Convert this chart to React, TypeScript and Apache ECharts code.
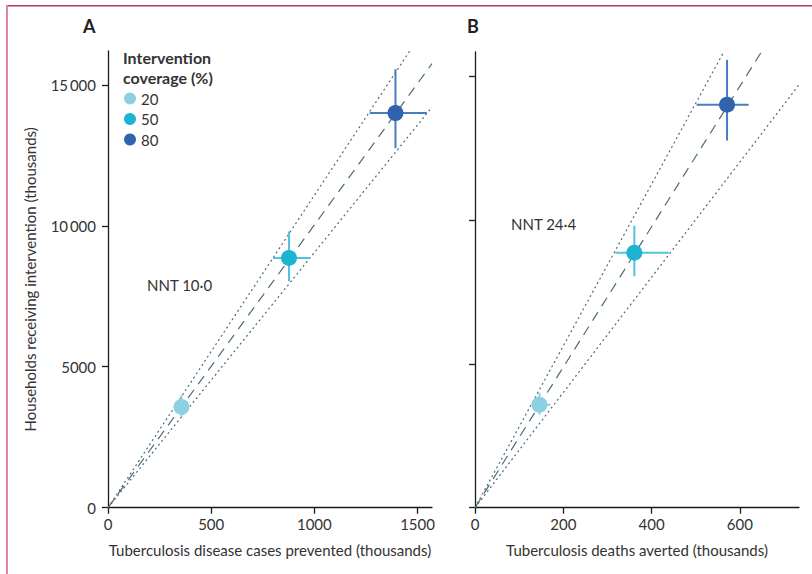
import React, { useEffect, useRef } from "react";
import * as echarts from "echarts";

// ---- data ----
const coverage = ["20", "50", "80"];
const coverageColors = ["#8dd0e4", "#1db4d1", "#2f63ad"];
const errorColors = ["#8dd0e4", "#52c3de", "#4a7cc0"];

// households receiving intervention (thousands), shared by both panels
const households = [3575, 8860, 14000];
const householdsLow = [3230, 8040, 12755];
const householdsHigh = [3990, 9797, 15557];

// Panel A: tuberculosis disease cases prevented (thousands)
const casesPrevented = [356, 877, 1393];
const casesLow = [335, 800, 1268];
const casesHigh = [378, 977, 1545];

// Panel B: tuberculosis deaths averted (thousands)
const deathsAverted = [146, 361, 571];
const deathsLow = [128, 318, 502];
const deathsHigh = [171, 439, 620];

// reference lines (start / end points)
const nntLineA = [[0, 0], [1570, 15750]];
const upperLineA = [[0, 0], [1462, 16200]];
const lowerLineA = [[0, 0], [1570, 14210]];
const nntLineB = [[0, 0], [650, 15860]];
const upperLineB = [[0, 0], [562, 15790]];
const lowerLineB = [[0, 0], [734, 14690]];

const xTicksA = [0, 500, 1000, 1500];
const xTicksB = [0, 200, 400, 600];
const yTicks = [0, 5000, 10000, 15000];

const nntLabelA = "NNT 10·0";
const nntLabelB = "NNT 24·4";

const FONT = "Lato, 'Noto Sans', sans-serif";
const LINE = "#4d6b7b";

function fmtY(v: number) {
  if (v >= 10000) {
    const s = String(v);
    return s.slice(0, s.length - 3) + "\u2009" + s.slice(s.length - 3);
  }
  return String(v);
}

export default function App() {
  const ref = useRef<HTMLDivElement>(null);
  useEffect(() => {
    if (!ref.current) return;
    const chart = echarts.init(ref.current, null, { renderer: "svg" });

    const axisCommon = {
      type: "value",
      axisLine: { show: true, lineStyle: { color: "#1a1a1a", width: 1.3 } },
      axisTick: { show: true, length: 6, lineStyle: { color: "#1a1a1a", width: 1.3 } },
      splitLine: { show: false },
      axisLabel: { color: "#333", fontSize: 15, fontFamily: FONT },
      nameTextStyle: { color: "#333", fontSize: 15, fontFamily: FONT },
    };

    const errorSeries = (xi: number, xv: number[], xl: number[], xh: number[]) => ({
      type: "custom",
      xAxisIndex: xi,
      yAxisIndex: xi,
      z: 3,
      silent: true,
      data: xv.map((x, i) => [x, households[i], xl[i], xh[i], householdsLow[i], householdsHigh[i]]),
      renderItem: (params: any, api: any) => {
        const x = api.value(0), y = api.value(1);
        const pL = api.coord([api.value(2), y]);
        const pH = api.coord([api.value(3), y]);
        const pB = api.coord([x, api.value(4)]);
        const pT = api.coord([x, api.value(5)]);
        const c = errorColors[params.dataIndex];
        return {
          type: "group",
          children: [
            { type: "line", shape: { x1: pL[0], y1: pL[1], x2: pH[0], y2: pH[1] }, style: { stroke: c, lineWidth: 2 } },
            { type: "line", shape: { x1: pB[0], y1: pB[1], x2: pT[0], y2: pT[1] }, style: { stroke: c, lineWidth: 2 } },
          ],
        };
      },
    });

    const refLine = (xi: number, data: number[][], dash: number[], w: number) => ({
      type: "line",
      xAxisIndex: xi,
      yAxisIndex: xi,
      data,
      symbol: "none",
      silent: true,
      z: 2,
      clip: false,
      lineStyle: { color: LINE, width: w, type: dash },
    });

    const scatterSeries: any[] = [];
    [0, 1].forEach((gi) => {
      const xv = gi === 0 ? casesPrevented : deathsAverted;
      coverage.forEach((name, i) => {
        scatterSeries.push({
          type: "scatter",
          name,
          xAxisIndex: gi,
          yAxisIndex: gi,
          symbolSize: 16,
          z: 5,
          itemStyle: { color: coverageColors[i], opacity: 1 },
          data: [[xv[i], households[i]]],
        });
      });
    });

    chart.setOption({
      animation: false,
      backgroundColor: "#fff",
      textStyle: { fontFamily: FONT },
      grid: [
        { left: 108, top: 51, width: 324, height: 456.7 },
        { left: 475, top: 52, width: 324, height: 455.7 },
      ],
      xAxis: [
        {
          ...axisCommon,
          gridIndex: 0,
          min: 0,
          max: 1570,
          axisTick: { ...axisCommon.axisTick, customValues: xTicksA },
          axisLabel: { ...axisCommon.axisLabel, customValues: xTicksA, margin: 9, formatter: (v: number) => String(v) },
          name: "Tuberculosis disease cases prevented (thousands)",
          nameLocation: "middle",
          nameGap: 35,
        },
        {
          ...axisCommon,
          gridIndex: 1,
          min: 0,
          max: 734,
          axisTick: { ...axisCommon.axisTick, customValues: xTicksB },
          axisLabel: { ...axisCommon.axisLabel, customValues: xTicksB, margin: 9, formatter: (v: number) => String(v) },
          name: "Tuberculosis deaths averted (thousands)",
          nameLocation: "middle",
          nameGap: 35,
        },
      ],
      yAxis: [
        {
          ...axisCommon,
          gridIndex: 0,
          min: 0,
          max: 16200,
          axisTick: { ...axisCommon.axisTick, customValues: yTicks },
          axisLabel: { ...axisCommon.axisLabel, customValues: yTicks, margin: 12, formatter: (v: number) => fmtY(v) },
          name: "Households receiving intervention (thousands)",
          nameLocation: "middle",
          nameGap: 71,
        },
        {
          ...axisCommon,
          gridIndex: 1,
          min: 0,
          max: 15830,
          axisTick: { ...axisCommon.axisTick, customValues: yTicks },
          axisLabel: { show: false },
        },
      ],
      legend: {
        data: coverage,
        left: 124,
        top: 91,
        orient: "vertical",
        icon: "circle",
        itemWidth: 12,
        itemHeight: 12,
        itemGap: 5.5,
        selectedMode: false,
        textStyle: { color: "#333", fontSize: 15, fontFamily: FONT, padding: [0, 0, 0, 0] },
        padding: 0,
      },
      graphic: [
        { type: "rect", shape: { x: 7, y: 5, width: 805, height: 1.5 }, style: { fill: "#b53b5c" } },
        { type: "rect", shape: { x: 6, y: 5, width: 2, height: 570 }, style: { fill: "#de88a2" } },
        { type: "text", left: 83, top: 17, style: { text: "A", fontSize: 18, fontWeight: "bold", fill: "#222", fontFamily: FONT } },
        { type: "text", left: 467, top: 17, style: { text: "B", fontSize: 18, fontWeight: "bold", fill: "#222", fontFamily: FONT } },
        {
          type: "text",
          left: 123,
          top: 47,
          style: { text: "Intervention\ncoverage (%)", fontSize: 16, fontWeight: "bold", fill: "#333", fontFamily: FONT, lineHeight: 20 },
        },
        { type: "text", left: 147, top: 277, style: { text: nntLabelA, fontSize: 15, fill: "#333", fontFamily: FONT } },
        { type: "text", left: 511, top: 216, style: { text: nntLabelB, fontSize: 15, fill: "#333", fontFamily: FONT } },
      ],
      series: [
        refLine(0, upperLineA, [2, 3], 1.2),
        refLine(0, lowerLineA, [2, 3], 1.2),
        refLine(0, nntLineA, [10, 7], 1.2),
        refLine(1, upperLineB, [2, 3], 1.2),
        refLine(1, lowerLineB, [2, 3], 1.2),
        refLine(1, nntLineB, [10, 7], 1.2),
        errorSeries(0, casesPrevented, casesLow, casesHigh),
        errorSeries(1, deathsAverted, deathsLow, deathsHigh),
        ...scatterSeries,
      ],
    });
    return () => chart.dispose();
  }, []);
  return <div ref={ref} style={{ width: 812, height: 574, position: "absolute", left: 0, top: 0 }} />;
}
